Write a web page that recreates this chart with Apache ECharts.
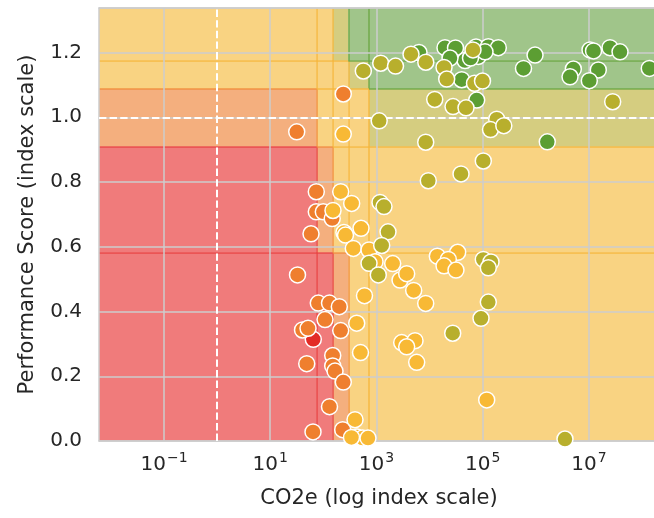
<!DOCTYPE html>
<html><head><meta charset="utf-8">
<script src="https://cdn.jsdelivr.net/npm/echarts@6/dist/echarts.min.js"></script>
<style>html,body{margin:0;padding:0;background:#fff}#c{width:654px;height:518px}</style>
</head><body><div id="c"></div>
<script>
// ---- axis ranges & ticks ----
const X_MIN = 0.005977;   // ~10^-2.22
const X_MAX = 2.078e8;    // ~10^8.32
const Y_MIN = 0;
const Y_MAX = 1.3375;
const xTicks = [0.1, 10, 1000, 1e5, 1e7];
const xTickBase = ['10', '10', '10', '10', '10'];
const xTickExp = ['\u22121', '1', '3', '5', '7'];
const yInterval = 0.2;

// ---- region thresholds ----
const xBreaks = [74.9, 149.8, 294.6, 722.5];
const yBreaks = [0.5816, 0.909, 1.0873, 1.1747];
const refX = 1;
const refY = 1;

// ---- points by class ----
const redPts = [[64.6,0.314]];
const orangePts = [
 [237,1.072],[31.5,0.955],[73.6,0.770],[73.6,0.708],[99.7,0.708],[146.6,0.687],[58.5,0.640],
 [32.6,0.513],[80.2,0.426],[130.4,0.426],[199.5,0.415],[107.3,0.375],[40.5,0.343],[51.4,0.348],
 [211.8,0.341],[48.6,0.239],[149.9,0.264],[149.9,0.232],[165.6,0.216],[237,0.182],[130.4,0.106],
 [63.8,0.028],[231,0.035]
];
const yellowPts = [
 [237,0.948],[211.8,0.770],[341,0.734],[151.7,0.712],[244,0.644],[261,0.636],[511,0.657],
 [366,0.595],[723,0.590],[937,0.554],[2018,0.548],[2770,0.497],[3700,0.517],[5012,0.465],
 [8440,0.425],[594,0.449],[424,0.364],[500,0.273],[394,0.066],[430,0.012],[545,0.009],
 [692,0.009],[338,0.011],[13960,0.571],[33750,0.583],[22490,0.561],[18660,0.541],[31340,0.528],
 [2980,0.304],[5310,0.310],[3700,0.291],[5710,0.243],[118700,0.127]
];
const greenPts = [
 [19460,1.215],[30690,1.214],[46340,1.175],[74650,1.217],[82400,1.188],[127300,1.218],
 [196300,1.215],[6310,1.200],[963700,1.192],[584800,1.151],[1.045e7,1.208],[1.216e7,1.205],
 [2.485e7,1.215],[3.836e7,1.202],[5.07e6,1.149],[4.39e6,1.125],[1.496e7,1.146],[1.014e7,1.113],
 [1.365e8,1.151],[40180,1.116],[76900,1.053],[1.64e6,0.924],[24200,1.183],[110200,1.202],[58750,1.183]
];
const olivePts = [
 [565,1.143],[1200,1.167],[2280,1.158],[4460,1.195],[8470,1.170],[18660,1.154],[65500,1.208],
 [20960,1.118],[69950,1.105],[98900,1.112],[12470,1.055],[27560,1.033],[48420,1.029],[2.79e7,1.048],
 [1125,0.989],[183200,0.994],[140000,0.962],[249000,0.974],[8440,0.923],[102400,0.865],[38990,0.825],
 [9440,0.804],[1164,0.737],[1384,0.724],[1646,0.646],[1253,0.604],[723,0.549],[1081,0.513],
 [102400,0.561],[142900,0.553],[127300,0.535],[127300,0.429],[92700,0.379],[27200,0.333],[3.53e6,0.006]
];

// ---- styling ----
const FILL = {red:'#f07b7b', salmon:'#f4af7e', yellow:'#f9d382', olive:'#d5cd80', green:'#a0c58a'};
const EDGE = {red:'#e8403f', orange:'#f08a3a', yellow:'#f5b53a', green:'#6aa641'};
const PT = {red:'#e32b26', orange:'#ef7f2e', yellow:'#f8b935', olive:'#b8af2d', green:'#5c9e33'};
const TXT = '#262626';
const FONT = 'DejaVu Sans';
const TICK_FS = 20;
const TITLE_FS = 21;

function levelColor(l){
  if (l <= 1) return FILL.red;
  if (l === 2) return FILL.salmon;
  if (l <= 5) return FILL.yellow;
  if (l === 6) return FILL.olive;
  return FILL.green;
}
const xe = [X_MIN].concat(xBreaks, [X_MAX]);
const ye = [Y_MIN].concat(yBreaks, [Y_MAX]);
const cells = [];
for (let i = 0; i < 5; i++) for (let j = 0; j < 5; j++) {
  cells.push([{coord:[xe[i], ye[j]], itemStyle:{color:levelColor(i+j), opacity:1, borderWidth:0}}, {coord:[xe[i+1], ye[j+1]]}]);
}
const [a,b,c,d] = xBreaks;
const [s,r,q,p] = yBreaks;
const segs = [
 [a,0,a,r,'red'],[a,r,a,q,'orange'],[a,q,a,Y_MAX,'yellow'],
 [b,0,b,s,'red'],[b,s,b,r,'orange'],[b,r,b,Y_MAX,'yellow'],
 [c,0,c,s,'orange'],[c,s,c,p,'yellow'],[c,p,c,Y_MAX,'green'],
 [d,0,d,q,'yellow'],[d,q,d,Y_MAX,'green'],
 [X_MIN,s,b,s,'red'],[b,s,c,s,'orange'],[c,s,X_MAX,s,'yellow'],
 [X_MIN,r,a,r,'red'],[a,r,b,r,'orange'],[b,r,X_MAX,r,'yellow'],
 [X_MIN,q,a,q,'orange'],[a,q,d,q,'yellow'],[d,q,X_MAX,q,'green'],
 [X_MIN,p,c,p,'yellow'],[c,p,X_MAX,p,'green']
];
const segData = segs.map(g => [
  {coord:[g[0],g[1]], lineStyle:{color:EDGE[g[4]], width:1.5, type:'solid', opacity:0.85}},
  {coord:[g[2],g[3]]}
]);

function ptSeries(data, color){
  return {type:'scatter', data:data, z:4, symbolSize:16, silent:true,
    itemStyle:{color:color, borderColor:'#ffffff', borderWidth:1.5, opacity:1}};
}
function xLabel(v){
  let k = 0, best = 1e9;
  xTicks.forEach((t,i) => { const e = Math.abs(Math.log10(t) - Math.log10(v)); if (e < best) { best = e; k = i; } });
  return '{b|' + xTickBase[k] + '}{s|' + xTickExp[k] + '}';
}

const chart = echarts.init(document.getElementById('c'), null, {renderer:'canvas'});
chart.setOption({
  animation:false,
  backgroundColor:'#ffffff',
  grid:{left:99, top:8, width:560, height:433, outerBoundsMode:'none'},
  xAxis:[{
    type:'log', logBase:10, min:X_MIN, max:X_MAX, position:'bottom', z:2,
    axisLine:{show:true, lineStyle:{color:'#cccccc', width:1.5}},
    axisTick:{show:false, customValues:xTicks},
    axisLabel:{customValues:xTicks, color:TXT, fontFamily:FONT, margin:12,
      formatter:xLabel,
      rich:{
        b:{fontSize:TICK_FS, lineHeight:22, color:TXT, fontFamily:FONT, verticalAlign:'bottom'},
        s:{fontSize:14, lineHeight:15, color:TXT, fontFamily:FONT, verticalAlign:'bottom', padding:[0,0,10,1]}
      }},
    splitLine:{show:true, lineStyle:{color:'#cccccc', width:1.5}},
    name:'CO2e (log index scale)', nameLocation:'middle', nameGap:47,
    nameTextStyle:{fontSize:TITLE_FS, color:TXT, fontFamily:FONT}
  },{
    type:'log', logBase:10, min:X_MIN, max:X_MAX, position:'top', z:2,
    axisLine:{show:true, lineStyle:{color:'#cccccc', width:1.5}},
    axisTick:{show:false}, axisLabel:{show:false}, splitLine:{show:false}
  }],
  yAxis:{
    type:'value', min:Y_MIN, max:Y_MAX, interval:yInterval, z:2,
    axisLine:{show:true, lineStyle:{color:'#cccccc', width:1.5}},
    axisTick:{show:false},
    axisLabel:{fontSize:TICK_FS, color:TXT, fontFamily:FONT, margin:17, showMaxLabel:false,
      formatter:function(v){ return v.toFixed(1); }},
    splitLine:{show:true, lineStyle:{color:'#cccccc', width:1.5}},
    name:'Performance Score (index scale)', nameLocation:'middle', nameGap:61,
    nameTextStyle:{fontSize:TITLE_FS, color:TXT, fontFamily:FONT}
  },
  series:[
    {type:'scatter', data:[], z:1, silent:true,
      markArea:{silent:true, z:1, data:cells}},
    {type:'line', data:[], z:1, silent:true,
      markLine:{silent:true, z:1.5, symbol:['none','none'], label:{show:false}, animation:false, data:segData}},
    {type:'line', data:[], z:3, silent:true,
      markLine:{silent:true, z:3, symbol:['none','none'], label:{show:false}, animation:false,
        lineStyle:{color:'#ffffff', width:2, type:[7.4,3.2], opacity:1},
        data:[{xAxis:refX}, {yAxis:refY}]}},
    ptSeries(redPts, PT.red),
    ptSeries(orangePts, PT.orange),
    ptSeries(yellowPts, PT.yellow),
    ptSeries(greenPts, PT.green),
    ptSeries(olivePts, PT.olive)
  ]
});
</script></body></html>
